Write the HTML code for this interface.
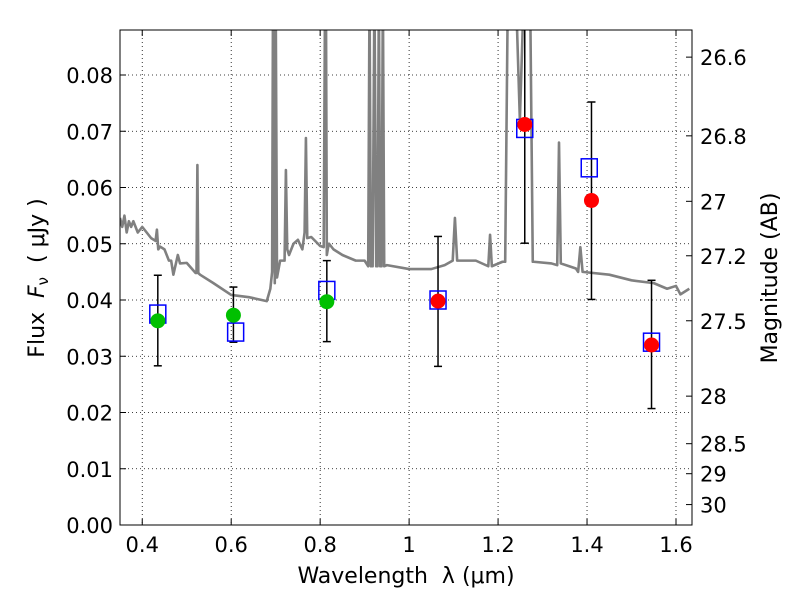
<!DOCTYPE html>
<html><head><meta charset="utf-8"><style>
body{margin:0;background:#fff}
svg text{font-family:"DejaVu Sans","Liberation Sans",sans-serif;fill:#000}
</style></head><body>
<svg id="chart" width="800" height="600" xmlns="http://www.w3.org/2000/svg">
<rect width="800" height="600" fill="#fff"/>
<defs><clipPath id="clip"><rect x="120" y="30" width="572" height="495"/></clipPath></defs>
<g id="grid"></g>
<g id="spec" clip-path="url(#clip)"></g>
<g id="marks" clip-path="url(#clip)"></g>
<rect x="120" y="30" width="572" height="495" fill="none" stroke="#000" stroke-width="1"/>
<g id="axes"></g>
<text x="406" y="583" font-size="22" text-anchor="middle" xml:space="preserve">Wavelength  λ (μm)</text>
<text transform="translate(44,278) rotate(-90)" font-size="22" text-anchor="middle" xml:space="preserve">Flux  <tspan font-style="italic">F</tspan><tspan font-size="15" dy="4">ν</tspan><tspan dy="-4">  ( μJy )</tspan></text>
<text transform="translate(777,278) rotate(-90)" font-size="22" text-anchor="middle">Magnitude (AB)</text>
</svg>
<script>
const xTicks=[0.4,0.6,0.8,1,1.2,1.4,1.6];
const xTickLabels=["0.4","0.6","0.8","1","1.2","1.4","1.6"];
const yTicks=[0,0.01,0.02,0.03,0.04,0.05,0.06,0.07,0.08];
const yTickLabels=["0.00","0.01","0.02","0.03","0.04","0.05","0.06","0.07","0.08"];
const magTicks=[26.6,26.8,27,27.2,27.5,28,28.5,29,30];
const specX=[0.35,0.355,0.36,0.365,0.37,0.375,0.38,0.39,0.4,0.41,0.42,0.43,0.433,0.436,0.44,0.45,0.46,0.465,0.47,0.48,0.485,0.5,0.52,0.522,0.524,0.526,0.53,0.56,0.6,0.64,0.68,0.688,0.692,0.694,0.696,0.698,0.7,0.703,0.71,0.72,0.723,0.726,0.73,0.74,0.75,0.76,0.765,0.768,0.771,0.78,0.8,0.808,0.811,0.813,0.815,0.818,0.82,0.83,0.85,0.88,0.9,0.908,0.911,0.914,0.918,0.922,0.926,0.929,0.932,0.935,0.938,0.941,0.944,0.95,1.0,1.05,1.08,1.098,1.103,1.108,1.15,1.178,1.182,1.186,1.21,1.216,1.222,1.24,1.249,1.258,1.272,1.278,1.28,1.32,1.333,1.337,1.341,1.36,1.375,1.38,1.385,1.39,1.45,1.5,1.55,1.58,1.6,1.61,1.63];
const specY=[0.0546,0.053,0.055,0.052,0.054,0.053,0.054,0.052,0.053,0.052,0.051,0.0505,0.0525,0.049,0.0495,0.049,0.047,0.047,0.0445,0.048,0.0465,0.0466,0.0448,0.0448,0.064,0.0448,0.0445,0.043,0.0409,0.0405,0.0398,0.042,0.045,0.095,0.095,0.043,0.095,0.044,0.047,0.047,0.0631,0.049,0.048,0.05,0.0507,0.049,0.052,0.0688,0.051,0.0512,0.0496,0.0494,0.095,0.095,0.048,0.0494,0.05,0.049,0.048,0.047,0.047,0.046,0.095,0.046,0.046,0.095,0.046,0.046,0.095,0.046,0.046,0.095,0.046,0.0462,0.0455,0.0455,0.0462,0.047,0.0546,0.047,0.047,0.046,0.0516,0.046,0.0468,0.0468,0.095,0.095,0.072,0.095,0.095,0.0468,0.0468,0.0465,0.0462,0.068,0.0465,0.046,0.0456,0.045,0.0494,0.045,0.0445,0.0435,0.043,0.042,0.0425,0.041,0.042,0.040];
const circX=[0.435,0.605,0.815,1.065,1.26,1.41,1.545];
const circY=[0.0363,0.0373,0.0397,0.0398,0.0712,0.0577,0.0320];
const circColor=["#00c000","#00c000","#00c000","red","red","red","red"];
const errLo=[0.0283,0.0325,0.0326,0.0282,0.0501,0.0401,0.0207];
const errHi=[0.0444,0.0423,0.0470,0.0513,0.095,0.0752,0.0435];
const sqX=[0.435,0.61,0.815,1.065,1.26,1.405,1.545];
const sqY=[0.0375,0.0343,0.0417,0.0400,0.0705,0.0635,0.0325];

const X0=120,X1=692,Y0=525,Y1=30,xmin=0.35,xmax=1.636,ymin=0,ymax=0.088;
const sx=v=>X0+(v-xmin)/(xmax-xmin)*(X1-X0);
const sy=v=>Y0-(v-ymin)/(ymax-ymin)*(Y0-Y1);
const NS="http://www.w3.org/2000/svg";
function mk(tag,parent,attrs){const e=document.createElementNS(NS,tag);for(const k in attrs)e.setAttribute(k,attrs[k]);document.getElementById(parent).appendChild(e);return e;}
const grid="grid",axes="axes";
xTicks.forEach((t,i)=>{const x=sx(t);
 let g=mk('line',grid,{x1:x,x2:x,y1:Y1,y2:Y0,stroke:'#000','stroke-dasharray':'1,3','stroke-width':0.8});
 
 mk('line',axes,{x1:x,x2:x,y1:Y0,y2:Y0-6,stroke:'#000'});mk('line',axes,{x1:x,x2:x,y1:Y1,y2:Y1+6,stroke:'#000'});
 let tx=mk('text',axes,{x:x,y:Y0+27,'font-size':21,'text-anchor':'middle'});tx.textContent=xTickLabels[i];
 });
yTicks.forEach((t,i)=>{const y=sy(t);
 let g=mk('line',grid,{x1:X0,x2:X1,y1:y,y2:y,stroke:'#000','stroke-dasharray':'1,3','stroke-width':0.8});
 
 mk('line',axes,{x1:X0,x2:X0+6,y1:y,y2:y,stroke:'#000'});
 let tx=mk('text',axes,{x:X0-7,y:y+8,'font-size':21,'text-anchor':'end'});tx.textContent=yTickLabels[i];
 });
magTicks.forEach(m=>{const y=sy(Math.pow(10,(23.9-m)/2.5));
 mk('line',axes,{x1:X1,x2:X1-6,y1:y,y2:y,stroke:'#000'});
 let tx=mk('text',axes,{x:X1+8,y:y+8,'font-size':21});tx.textContent=String(m);
 });
let pts=specX.map((v,i)=>sx(v)+','+sy(specY[i])).join(' ');
let sp=mk('polyline','spec',{points:pts,fill:'none',stroke:'#808080','stroke-width':2.6,'stroke-linejoin':'round'});

circX.forEach((v,i)=>{const x=sx(v);
 let e=mk('line','marks',{x1:x,x2:x,y1:sy(errLo[i]),y2:sy(errHi[i]),stroke:'#000','stroke-width':1.5});
 
 mk('line','marks',{x1:x-4,x2:x+4,y1:sy(errLo[i]),y2:sy(errLo[i]),stroke:'#000','stroke-width':1.5});
 mk('line','marks',{x1:x-4,x2:x+4,y1:sy(errHi[i]),y2:sy(errHi[i]),stroke:'#000','stroke-width':1.5});});
sqX.forEach((v,i)=>{let r=mk('rect','marks',{x:sx(v)-8,y:sy(sqY[i])-9,width:16,height:18,fill:'none',stroke:'blue','stroke-width':1.5});
 });
circX.forEach((v,i)=>{let c=mk('circle','marks',{cx:sx(v),cy:sy(circY[i]),r:7.5,fill:circColor[i]});
 });
</script>
</body></html>
